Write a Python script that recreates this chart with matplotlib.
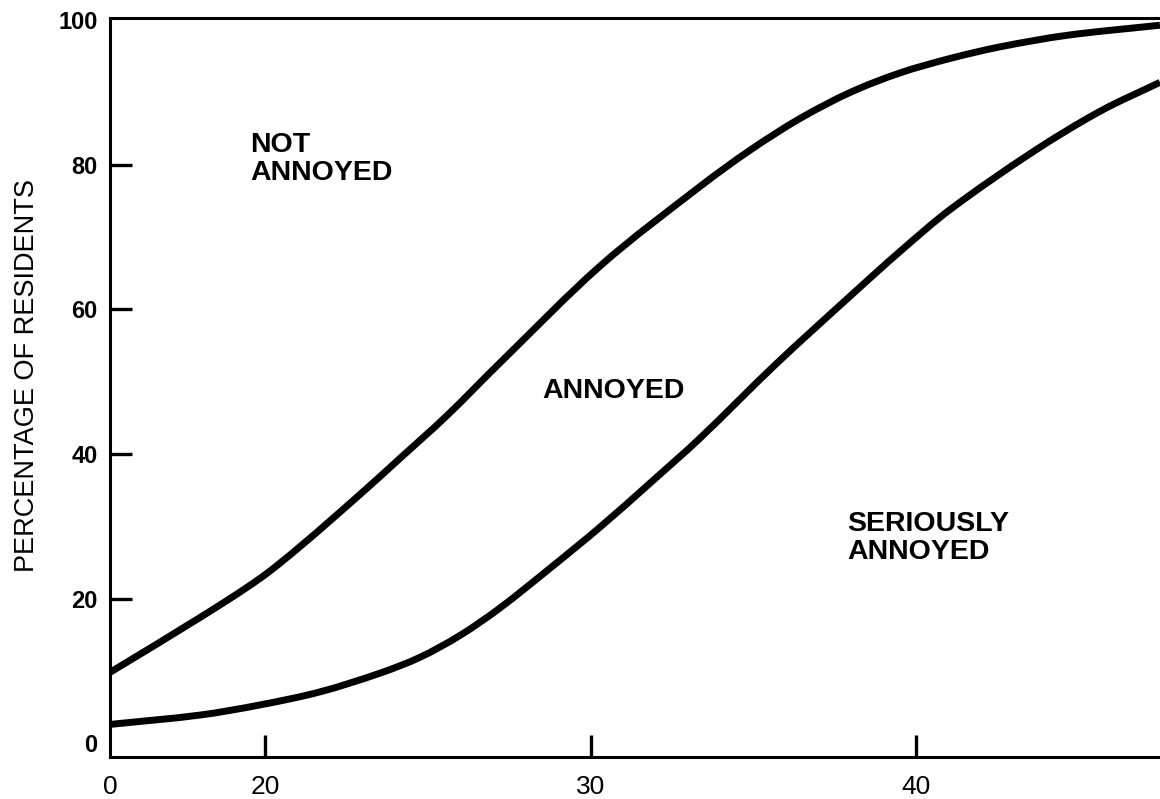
import matplotlib
matplotlib.use("Agg")
import matplotlib.pyplot as plt
from matplotlib.path import Path
from matplotlib.patches import PathPatch

plt.rcParams['font.family'] = ['Liberation Sans', 'DejaVu Sans']

# values (x: scale units, y: percent of residents)
upper_x = [15.23, 18.0, 19.84, 21.07, 22.91, 24.14, 25.58, 27.21, 30.29,
           33.36, 34.89, 36.43, 37.97, 39.5, 41.04, 42.57, 44.63, 47.49]
upper_y = [9.8, 17.4, 22.8, 27.2, 34.4, 39.4, 45.3, 52.6, 66.0,
           77.0, 82.0, 86.4, 90.0, 92.7, 94.7, 96.3, 97.9, 99.3]

lower_x = [15.23, 18.0, 19.84, 21.68, 23.53, 24.76, 25.98, 27.21, 28.75, 30.29,
           31.83, 33.36, 35.66, 38.06, 39.5, 41.04, 43.59, 45.65, 47.49]
lower_y = [2.6, 3.9, 5.3, 7.1, 9.7, 11.9, 14.9, 18.7, 24.2, 29.9,
           36.0, 42.2, 52.3, 62.2, 68.0, 73.8, 81.8, 87.4, 91.4]

x_ticks = [20, 30, 40]
x_tick_labels = ['20', '30', '40']
y_ticks = [0, 20, 40, 60, 80, 100]
y_tick_labels = ['0', '20', '40', '60', '80', '100']


def smooth_path(xs, ys):
    # cubic hermite through the read points, drawn as bezier segments
    n = len(xs)
    slopes = []
    for i in range(n):
        a = max(i - 1, 0)
        b = min(i + 1, n - 1)
        slopes.append((ys[b] - ys[a]) / (xs[b] - xs[a]))
    verts = [(xs[0], ys[0])]
    codes = [Path.MOVETO]
    for i in range(n - 1):
        d = (xs[i + 1] - xs[i]) / 3
        verts += [(xs[i] + d, ys[i] + slopes[i] * d),
                  (xs[i + 1] - d, ys[i + 1] - slopes[i + 1] * d),
                  (xs[i + 1], ys[i + 1])]
        codes += [Path.CURVE4] * 3
    return Path(verts, codes)


fig = plt.figure(figsize=(11.6, 7.99), dpi=100)
ax = fig.add_axes([0.0948, 0.0526, 0.9052, 0.9249])

for xs, ys in [(upper_x, upper_y), (lower_x, lower_y)]:
    ax.add_patch(PathPatch(smooth_path(xs, ys), fill=False, edgecolor='black',
                           lw=5.0, capstyle='butt'))

ax.set_xlim(15.23, 47.49)
ax.set_ylim(-1.9, 100.3)

for side in ['left', 'bottom', 'top']:
    ax.spines[side].set_linewidth(2.2)
ax.spines['right'].set_visible(False)

# x axis: "0" sits under the origin, the rest are real ticks
ax.set_xticks([ax.get_xlim()[0]] + x_ticks)
ax.set_xticklabels(['0'] + x_tick_labels, fontsize=19)
ax.tick_params(axis='x', direction='in', length=16, width=2.4, pad=13)
ax.xaxis.get_major_ticks()[0].tick1line.set_visible(False)

ax.set_yticks(y_ticks)
ax.set_yticklabels(y_tick_labels, fontsize=17, fontweight='bold')
ax.tick_params(axis='y', direction='in', length=16, width=2.4, pad=9)
ax.yaxis.get_major_ticks()[0].tick1line.set_visible(False)
ax.yaxis.get_major_ticks()[-1].tick1line.set_visible(False)

fig.text(27 / 1160, 1 - 376 / 799, 'PERCENTAGE OF RESIDENTS', rotation=90,
         ha='center', va='center', fontsize=19.5)

ax.text(19.55, 80.8, 'NOT\nANNOYED', fontsize=20.5, fontweight='bold',
        ha='left', va='center', linespacing=1.1)
ax.text(30.69, 48.7, 'ANNOYED', fontsize=20.5, fontweight='bold',
        ha='center', va='center')
ax.text(37.88, 28.4, 'SERIOUSLY\nANNOYED', fontsize=20.5, fontweight='bold',
        ha='left', va='center', linespacing=1.1)

fig.savefig('out.png', dpi=100)
